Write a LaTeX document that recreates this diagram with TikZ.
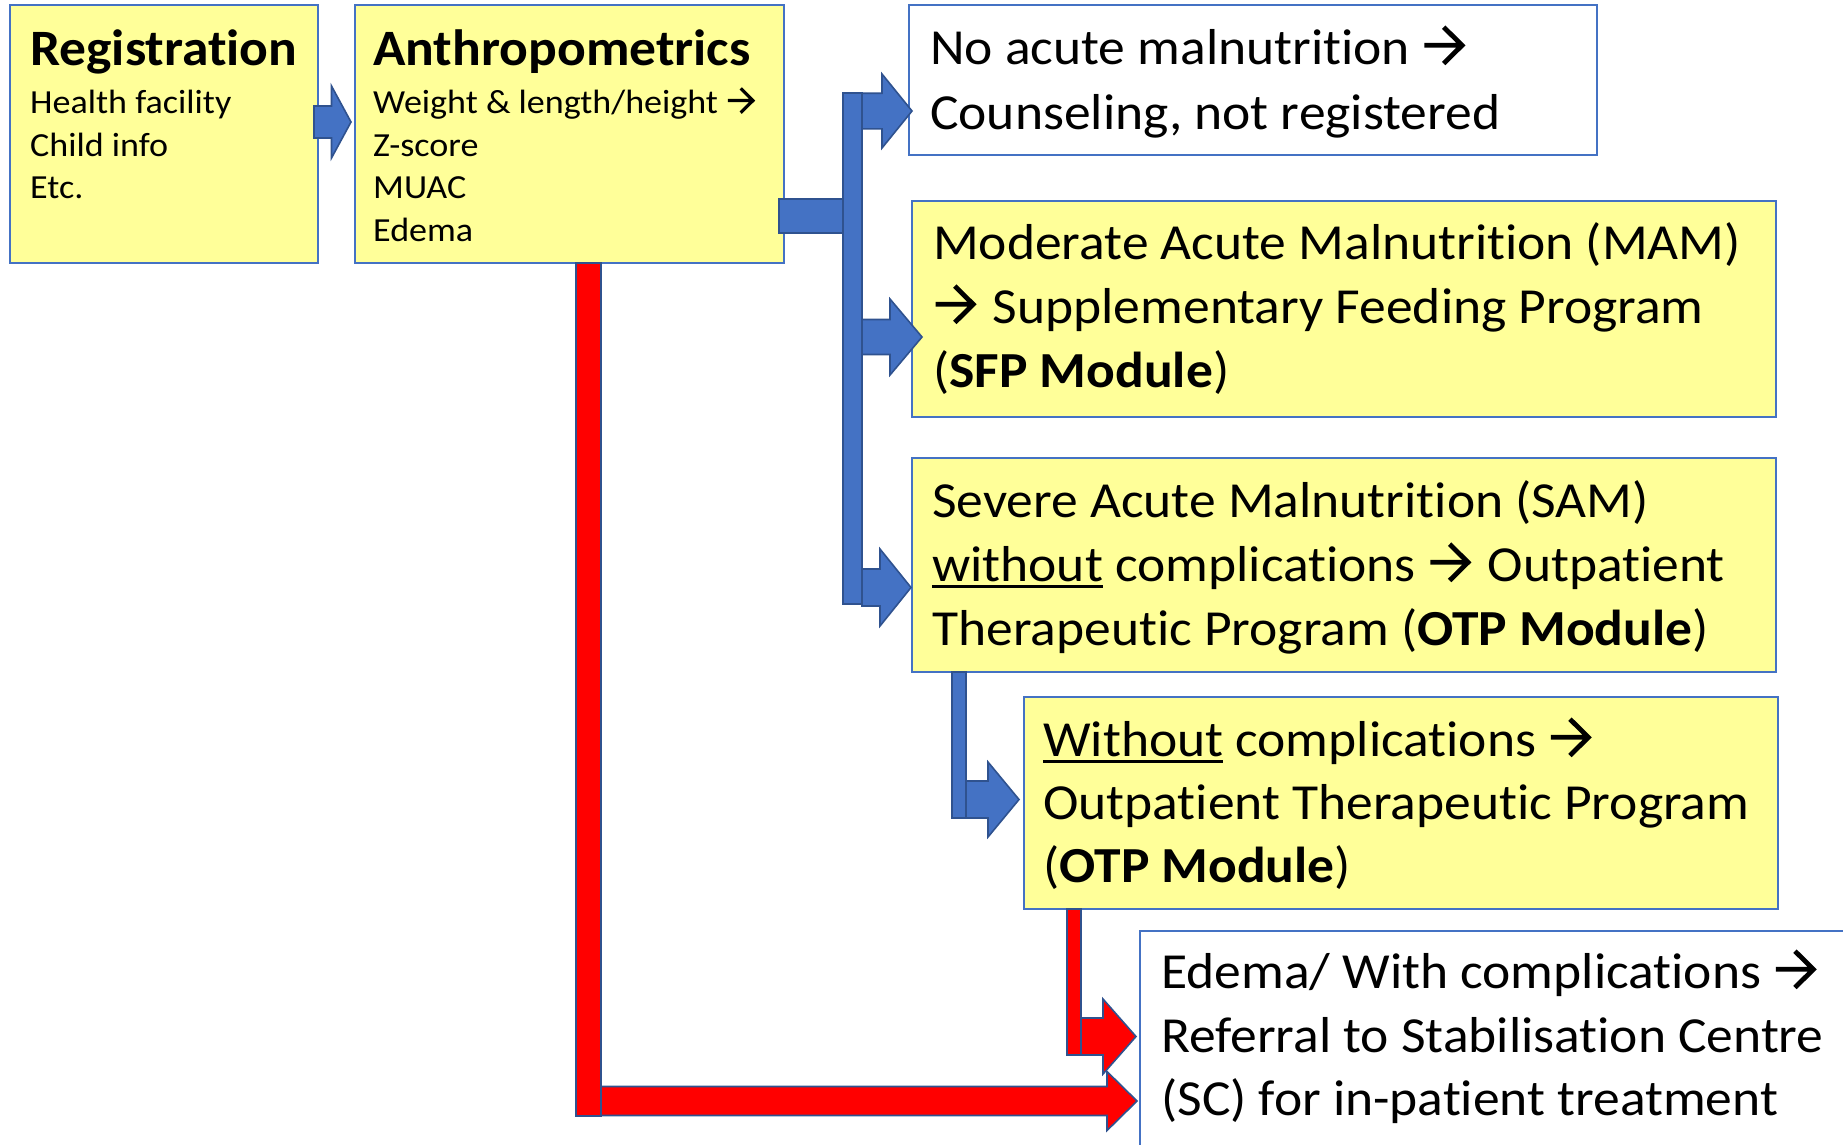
\documentclass[tikz,border=0pt]{standalone}
\usepackage{fontspec}
\defaultfontfeatures{Ligatures=NoCommon}
\setmainfont{Carlito}
\newfontfamily\bigfont{Carlito}[FakeStretch=1.06]
\newfontfamily\ttlfont{Carlito}[FakeStretch=1.05]
\newfontfamily\smlfont{Carlito}[FakeStretch=1.07]
\usetikzlibrary{calc}
\definecolor{boxyellow}{HTML}{FFFF99}
\definecolor{boxedge}{HTML}{4472C4}
\definecolor{arrowblue}{HTML}{4472C4}
\definecolor{arrowedge}{HTML}{2F528F}
\definecolor{arrowred}{HTML}{FF0000}
% break the t-i ligature of Carlito
\newcommand\ttii{t\kern0pt i}
\newsavebox\ulbox
\newcommand\myul[1]{\sbox\ulbox{#1}\rlap{\rule[-0.13em]{\wd\ulbox}{0.06em}}\usebox\ulbox}
% text arrow (chevron style)
\newcommand\rarr{\tikz[baseline=0pt,x=1em,y=1em]{\draw[black,line width=0.095em,line cap=butt,line join=miter]
  (0.02,0.37) -- (0.76,0.37) (0.40,0.73) -- (0.765,0.37) -- (0.40,0.01);}\kern0.1em\relax}
% #1 style, #2 shaft start, #3 tip, #4 shaft half width, #5 head half width, #6 head length
\newcommand\fatarrow[6]{\path[#1] let \p1=(#2), \p2=(#3) in
  (\x1,\y2+#4) -- (\x2-#6,\y2+#4) -- (\x2-#6,\y2+#5) -- (\x2,\y2) --
  (\x2-#6,\y2-#5) -- (\x2-#6,\y2-#4) -- (\x1,\y2-#4) -- cycle;}
\begin{document}
\begin{tikzpicture}[x=1pt,y=-1pt,
  box/.style={draw=boxedge, line width=1.6pt, anchor=north west, inner sep=0pt, outer sep=0pt},
  ybox/.style={box, fill=boxyellow},
  wbox/.style={box, fill=white},
  blueshape/.style={fill=arrowblue, draw=arrowedge, line width=1.6pt},
  redshape/.style={fill=arrowred, draw=arrowedge, line width=1.6pt},
  big/.style={anchor=base west, inner sep=0pt, font=\bigfont\fontsize{50.5}{60}\selectfont},
  ttl/.style={anchor=base west, inner sep=0pt, font=\ttlfont\fontsize{51}{60}\selectfont\bfseries},
  sml/.style={anchor=base west, inner sep=0pt, font=\smlfont\fontsize{33.7}{40}\selectfont},
]
\useasboundingbox (0,0) rectangle (1843,1144);
% boxes
\node[ybox, minimum width=308pt, minimum height=258pt] (reg) at (10,5) {};
\node[ybox, minimum width=429pt, minimum height=258pt] (anth) at (355,5) {};
\node[wbox, minimum width=688pt, minimum height=150pt] (noac) at (909,5) {};
\node[ybox, minimum width=864pt, minimum height=216pt] (mam) at (912,201) {};
\node[ybox, minimum width=864pt, minimum height=214pt] (sam) at (912,458) {};
\node[ybox, minimum width=754pt, minimum height=212pt] (wout) at (1024,697) {};
\node[wbox, minimum width=720pt, minimum height=230pt] (edema) at (1140,931) {};
% texts
\node[ttl] (regT) at (30,65) {Registra\ttii{}on};
\node[sml] (regA) at (30,113) {Health facility};
\node[sml] (regB) at (30,156) {Child info};
\node[sml] (regC) at (30,198) {Etc.};
\node[ttl] (anthT) at (373,65) {Anthropometrics};
\node[sml] (anthA) at (373,113) {Weight \& length/height \rarr};
\node[sml] (anthB) at (373,156) {Z-score};
\node[sml] (anthC) at (373,198) {MUAC};
\node[sml] (anthD) at (373,241) {Edema};
\node[big] (noacA) at (930,64) {No acute malnutri\ttii{}on \rarr};
\node[big] (noacB) at (930,129.6) {Counseling, not registered};
\node[big] (mamA) at (933,259) {Moderate Acute Malnutri\ttii{}on (MAM)};
\node[big] (mamB) at (933,323) {\rarr{} Supplementary Feeding Program};
\node[big] (mamC) at (933,387) {(\textbf{SFP Module})};
\node[big] (samA) at (932,517) {Severe Acute Malnutri\ttii{}on (SAM)};
\node[big] (samB) at (932,581) {\myul{without} complica\ttii{}ons \rarr{} Outpa\ttii{}ent};
\node[big] (samC) at (932,645) {Therapeu\ttii{}c Program (\textbf{OTP Module})};
\node[big] (woutA) at (1043,756) {\myul{Without} complica\ttii{}ons \rarr};
\node[big] (woutB) at (1043,819) {Outpa\ttii{}ent Therapeu\ttii{}c Program};
\node[big] (woutC) at (1043,882) {(\textbf{OTP Module})};
\node[big] (edemaA) at (1161,988) {Edema/ With complica\ttii{}ons \rarr};
\node[big] (edemaB) at (1161,1052) {Referral to Stabilisa\ttii{}on Centre};
\node[big] (edemaC) at (1161,1115) {(SC) for in-pa\ttii{}ent treatment};
% connectors
\coordinate (rs) at (314,122);
\coordinate (rt) at (anth.west |- rs);
\fatarrow{blueshape}{rs}{$(rt)+(-4,0)$}{16pt}{36pt}{19.5pt}
% blue tree
\path[blueshape] (779,199) rectangle (843,233);
\path[blueshape] (843,93) rectangle (862,604);
\coordinate (b1) at (862,111);
\coordinate (b2) at (862,337);
\coordinate (b3) at (862,587.5);
\fatarrow{blueshape}{b1}{$(noac.west |- b1)+(3,0)$}{17.8pt}{37pt}{30pt}
\fatarrow{blueshape}{b2}{$(mam.west |- b2)+(10,0)$}{17.5pt}{38pt}{32pt}
\fatarrow{blueshape}{b3}{$(sam.west |- b3)+(-1,0)$}{18.5pt}{38.5pt}{31pt}
% SAM -> Without
\path[blueshape] (952,672) rectangle (966,818);
\coordinate (b4) at (966,799.5);
\fatarrow{blueshape}{b4}{$(wout.west |- b4)+(-5,0)$}{18.5pt}{37.5pt}{31pt}
% red: anthropometrics -> edema
\path[redshape] (576,263) rectangle (601,1116);
\coordinate (r1) at (601,1101);
\fatarrow{redshape}{r1}{$(edema.west |- r1)+(-3,0)$}{14.5pt}{29.5pt}{30pt}
% red: without -> edema
\path[redshape] (1067,909) rectangle (1081,1055);
\coordinate (r2) at (1081,1036.5);
\fatarrow{redshape}{r2}{$(edema.west |- r2)+(-4,0)$}{18.5pt}{37.5pt}{33pt}
\end{tikzpicture}
\end{document}
